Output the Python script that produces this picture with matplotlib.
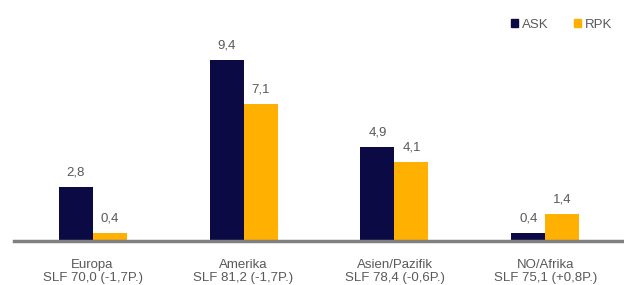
import numpy as np
import matplotlib.pyplot as plt
from matplotlib.patches import Patch

plt.rcParams['font.family'] = ['Liberation Sans', 'DejaVu Sans']

categories = ['Europa\nSLF 70,0 (-1,7P.)', 'Amerika\nSLF 81,2 (-1,7P.)',
              'Asien/Pazifik\nSLF 78,4 (-0,6P.)', 'NO/Afrika\nSLF 75,1 (+0,8P.)']
ask = [2.8, 9.4, 4.9, 0.4]
rpk = [0.4, 7.1, 4.1, 1.4]

navy = '#0B0A45'
orange = '#FFB000'
grey_txt = '#595959'

fig = plt.figure(figsize=(6.24, 2.85), dpi=100)
ax = fig.add_axes([14 / 624, 44 / 285, 610 / 624, 192.6 / 285])

x = np.arange(len(categories))
w = 34 / 151
b1 = ax.bar(x - w / 2, ask, w, color=navy, label='ASK')
b2 = ax.bar(x + w / 2, rpk, w, color=orange, label='RPK')

for bars, vals in [(b1, ask), (b2, rpk)]:
    for r, v in zip(bars, vals):
        ax.annotate(f'{v:.1f}'.replace('.', ','), (r.get_x() + r.get_width() / 2, v),
                    xytext=(0, 6), textcoords='offset points', ha='center', va='bottom',
                    fontsize=9.5, color=grey_txt)

ax.set_xlim(-0.52, 3.52)
ax.set_ylim(0, 10)
ax.set_xticks(x)
ax.set_xticklabels(categories, fontsize=9.5, color=grey_txt, linespacing=1.15)
ax.tick_params(axis='x', length=0, pad=13)
ax.set_yticks([])
for s in ['top', 'right', 'left']:
    ax.spines[s].set_visible(False)
ax.spines['bottom'].set_color('#808080')
ax.spines['bottom'].set_linewidth(2.5)

handles = [Patch(color=navy, label='ASK'), Patch(color=orange, label='RPK')]
leg = fig.legend(handles=handles, loc='upper right', bbox_to_anchor=(1.0, 0.975),
                 ncol=2, frameon=False, fontsize=9.5, handlelength=0.55, handleheight=0.55,
                 handletextpad=0.3, columnspacing=1.9)
for t in leg.get_texts():
    t.set_color(grey_txt)

fig.savefig('out.png', dpi=100)
